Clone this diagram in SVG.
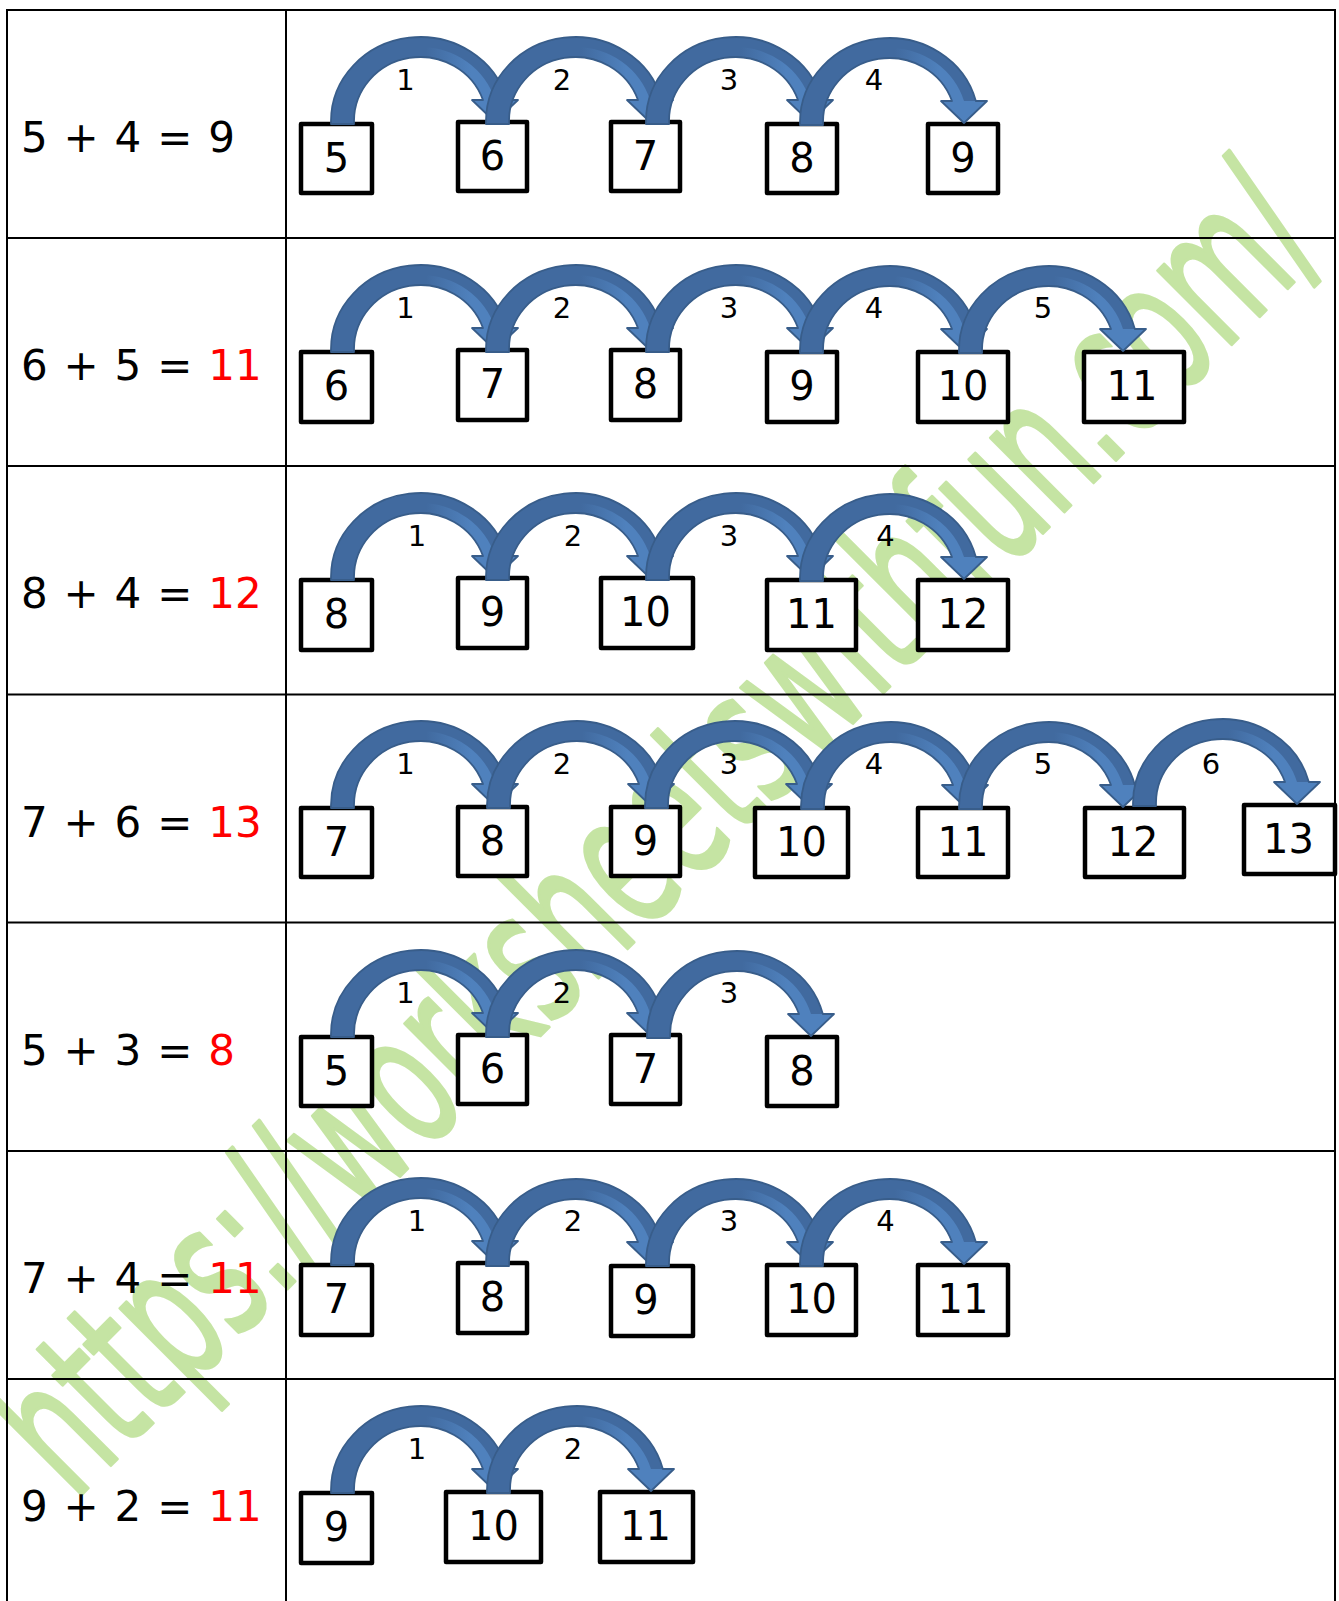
<svg xmlns="http://www.w3.org/2000/svg" width="1339" height="1601" viewBox="0 0 1339 1601">
<style>
.eq{font-family:"DejaVu Sans","Verdana",sans-serif;font-size:42px;fill:#000;word-spacing:2.5px}
.ans{fill:#FF0000}
.num{font-family:"DejaVu Sans","Verdana",sans-serif;font-size:40px;fill:#000;text-anchor:middle}
.lbl{font-family:"DejaVu Sans","Verdana",sans-serif;font-size:29px;fill:#000;text-anchor:middle}
.box{fill:#fff;stroke:#000;stroke-width:4.5;stroke-linejoin:round}
.grid{stroke:#000;stroke-width:2;fill:none}
.wm{font-family:"DejaVu Sans",sans-serif;font-size:112px;fill:#C5E4A3;stroke:#C5E4A3;stroke-width:2;stroke-linejoin:round}
</style>
<defs>
<linearGradient id="hl" gradientUnits="userSpaceOnUse" x1="95" y1="0" x2="140" y2="0">
<stop offset="0" stop-color="#4F81BD" stop-opacity="0"/>
<stop offset="1" stop-color="#4F81BD" stop-opacity="1"/>
</linearGradient>
<g id="arr">
<path d="M0,3 L0,0 A89.35,84 0 0 1 175.85,-21 L187,-21 L164,1 L141,-21 L152,-21 A66.35,64 0 0 0 23,0 L23,3 Z" fill="#416A9F"/>
<path d="M89.35,-74 A77.85,74 0 0 1 164,-21 L152,-21 A66.35,64 0 0 0 89.35,-64 Z" fill="url(#hl)"/>
<polygon points="141,-21 187,-21 164,1" fill="#4F81BD"/>
<path d="M0,3 L0,0 A89.35,84 0 0 1 175.85,-21 L187,-21 L164,1 L141,-21 L152,-21 A66.35,64 0 0 0 23,0 L23,3 Z" fill="none" stroke="#385D8A" stroke-width="1.8" stroke-linejoin="round"/>
</g>
</defs>
<rect x="0" y="0" width="1339" height="1601" fill="#fff"/>
<g id="watermark">
<text class="wm" transform="translate(74,1502) rotate(-45) scale(1,1.7)">https://worksheetswithfun.com/</text>
</g>
<g id="table">
<line class="grid" x1="7" y1="10" x2="1335" y2="10"/>
<line class="grid" x1="7" y1="9" x2="7" y2="1601"/>
<line class="grid" x1="286" y1="9" x2="286" y2="1601"/>
<line class="grid" x1="1335" y1="9" x2="1335" y2="1601"/>
<line class="grid" x1="7" y1="238" x2="1335" y2="238"/>
<line class="grid" x1="7" y1="466" x2="1335" y2="466"/>
<line class="grid" x1="7" y1="694.5" x2="1335" y2="694.5"/>
<line class="grid" x1="7" y1="922.5" x2="1335" y2="922.5"/>
<line class="grid" x1="7" y1="1151" x2="1335" y2="1151"/>
<line class="grid" x1="7" y1="1379" x2="1335" y2="1379"/>
</g>
<g id="equations">
<text id="eq1" class="eq" x="21" y="152">5 + 4 = 9</text>
<text id="eq2" class="eq" x="21" y="380">6 + 5 = <tspan class="ans">11</tspan></text>
<text id="eq3" class="eq" x="21" y="608">8 + 4 = <tspan class="ans">12</tspan></text>
<text id="eq4" class="eq" x="21" y="837">7 + 6 = <tspan class="ans">13</tspan></text>
<text id="eq5" class="eq" x="21" y="1065">5 + 3 = <tspan class="ans">8</tspan></text>
<text id="eq6" class="eq" x="21" y="1293">7 + 4 = <tspan class="ans">11</tspan></text>
<text id="eq7" class="eq" x="21" y="1521">9 + 2 = <tspan class="ans">11</tspan></text>
</g>
<g id="nodes">
<g id="r1n5"><rect class="box" x="301" y="124" width="71" height="69"/><text class="num" x="336.5" y="172">5</text></g>
<g id="r1n6"><rect class="box" x="458" y="122" width="69" height="69"/><text class="num" x="492.5" y="170">6</text></g>
<g id="r1n7"><rect class="box" x="611" y="122" width="69" height="69"/><text class="num" x="645.5" y="170">7</text></g>
<g id="r1n8"><rect class="box" x="767" y="124" width="70" height="69"/><text class="num" x="802" y="172">8</text></g>
<g id="r1n9"><rect class="box" x="928" y="124" width="70" height="69"/><text class="num" x="963" y="172">9</text></g>

<g id="r2n6"><rect class="box" x="301" y="352" width="71" height="70"/><text class="num" x="336.5" y="400">6</text></g>
<g id="r2n7"><rect class="box" x="458" y="350" width="69" height="70"/><text class="num" x="492.5" y="398">7</text></g>
<g id="r2n8"><rect class="box" x="611" y="350" width="69" height="70"/><text class="num" x="645.5" y="398">8</text></g>
<g id="r2n9"><rect class="box" x="767" y="352" width="70" height="70"/><text class="num" x="802" y="400">9</text></g>
<g id="r2n10"><rect class="box" x="918" y="352" width="90" height="70"/><text class="num" x="963" y="400">10</text></g>
<g id="r2n11"><rect class="box" x="1084" y="352" width="100" height="70"/><text class="num" x="1132" y="400">11</text></g>

<g id="r3n8"><rect class="box" x="301" y="580" width="71" height="70"/><text class="num" x="336.5" y="628">8</text></g>
<g id="r3n9"><rect class="box" x="458" y="578" width="69" height="70"/><text class="num" x="492.5" y="626">9</text></g>
<g id="r3n10"><rect class="box" x="601" y="578" width="92" height="70"/><text class="num" x="645.5" y="626">10</text></g>
<g id="r3n11"><rect class="box" x="767" y="580" width="89" height="70"/><text class="num" x="811.5" y="628">11</text></g>
<g id="r3n12"><rect class="box" x="918" y="580" width="90" height="70"/><text class="num" x="963" y="628">12</text></g>

<g id="r4n7"><rect class="box" x="301" y="808" width="71" height="69"/><text class="num" x="336.5" y="856">7</text></g>
<g id="r4n8"><rect class="box" x="458" y="807" width="69" height="69"/><text class="num" x="492.5" y="855">8</text></g>
<g id="r4n9"><rect class="box" x="611" y="807" width="69" height="69"/><text class="num" x="645.5" y="855">9</text></g>
<g id="r4n10"><rect class="box" x="755" y="808" width="93" height="69"/><text class="num" x="801.5" y="856">10</text></g>
<g id="r4n11"><rect class="box" x="918" y="808" width="90" height="69"/><text class="num" x="963" y="856">11</text></g>
<g id="r4n12"><rect class="box" x="1085" y="808" width="99" height="69"/><text class="num" x="1133" y="856">12</text></g>
<g id="r4n13"><rect class="box" x="1244" y="805" width="91" height="69"/><text class="num" x="1288.5" y="853">13</text></g>

<g id="r5n5"><rect class="box" x="301" y="1037" width="71" height="69"/><text class="num" x="336.5" y="1085">5</text></g>
<g id="r5n6"><rect class="box" x="458" y="1035" width="69" height="69"/><text class="num" x="492.5" y="1083">6</text></g>
<g id="r5n7"><rect class="box" x="611" y="1035" width="69" height="69"/><text class="num" x="645.5" y="1083">7</text></g>
<g id="r5n8"><rect class="box" x="767" y="1037" width="70" height="69"/><text class="num" x="802" y="1085">8</text></g>

<g id="r6n7"><rect class="box" x="301" y="1265" width="71" height="70"/><text class="num" x="336.5" y="1313">7</text></g>
<g id="r6n8"><rect class="box" x="458" y="1263" width="69" height="70"/><text class="num" x="492.5" y="1311">8</text></g>
<g id="r6n9"><rect class="box" x="611" y="1266" width="82" height="70"/><text class="num" x="646" y="1314">9</text></g>
<g id="r6n10"><rect class="box" x="767" y="1265" width="89" height="70"/><text class="num" x="811.5" y="1313">10</text></g>
<g id="r6n11"><rect class="box" x="918" y="1265" width="90" height="70"/><text class="num" x="963" y="1313">11</text></g>

<g id="r7n9"><rect class="box" x="301" y="1493" width="71" height="70"/><text class="num" x="336.5" y="1541">9</text></g>
<g id="r7n10"><rect class="box" x="446" y="1492" width="95" height="70"/><text class="num" x="493.5" y="1540">10</text></g>
<g id="r7n11"><rect class="box" x="600" y="1492" width="93" height="70"/><text class="num" x="645.5" y="1540">11</text></g>
</g>
<g id="connectors">
<use href="#arr" x="331" y="121"/><use href="#arr" x="486" y="121"/><use href="#arr" x="646" y="121"/><use href="#arr" x="800" y="122"/>
<use href="#arr" x="331" y="349"/><use href="#arr" x="486" y="349"/><use href="#arr" x="646" y="349"/><use href="#arr" x="800" y="350"/><use href="#arr" x="959" y="350"/>
<use href="#arr" x="331" y="577"/><use href="#arr" x="486" y="577"/><use href="#arr" x="646" y="577"/><use href="#arr" x="800" y="578"/>
<use href="#arr" x="331" y="805"/><use href="#arr" x="487" y="805"/><use href="#arr" x="645" y="805"/><use href="#arr" x="801" y="806"/><use href="#arr" x="959" y="806"/><use href="#arr" x="1133" y="803"/>
<use href="#arr" x="331" y="1034"/><use href="#arr" x="486" y="1034"/><use href="#arr" x="647" y="1035"/>
<use href="#arr" x="331" y="1262"/><use href="#arr" x="486" y="1263"/><use href="#arr" x="646" y="1263"/><use href="#arr" x="800" y="1263"/>
<use href="#arr" x="331" y="1490"/><use href="#arr" x="487" y="1490"/>
</g>
<g id="labels">
<text class="lbl" x="405.5" y="90">1</text><text class="lbl" x="562" y="90">2</text><text class="lbl" x="729" y="90">3</text><text class="lbl" x="874" y="90">4</text>
<text class="lbl" x="405.5" y="318">1</text><text class="lbl" x="562" y="318">2</text><text class="lbl" x="729" y="318">3</text><text class="lbl" x="874" y="318">4</text><text class="lbl" x="1043" y="318">5</text>
<text class="lbl" x="417" y="546">1</text><text class="lbl" x="573" y="546">2</text><text class="lbl" x="729" y="546">3</text><text class="lbl" x="885.5" y="546">4</text>
<text class="lbl" x="405.5" y="774">1</text><text class="lbl" x="562" y="774">2</text><text class="lbl" x="729" y="774">3</text><text class="lbl" x="874" y="774">4</text><text class="lbl" x="1043" y="774">5</text><text class="lbl" x="1211" y="774">6</text>
<text class="lbl" x="405.5" y="1003">1</text><text class="lbl" x="562" y="1003">2</text><text class="lbl" x="729" y="1003">3</text>
<text class="lbl" x="417" y="1231">1</text><text class="lbl" x="573" y="1231">2</text><text class="lbl" x="729" y="1231">3</text><text class="lbl" x="885.5" y="1231">4</text>
<text class="lbl" x="417" y="1459">1</text><text class="lbl" x="573" y="1459">2</text>
</g>
</svg>
